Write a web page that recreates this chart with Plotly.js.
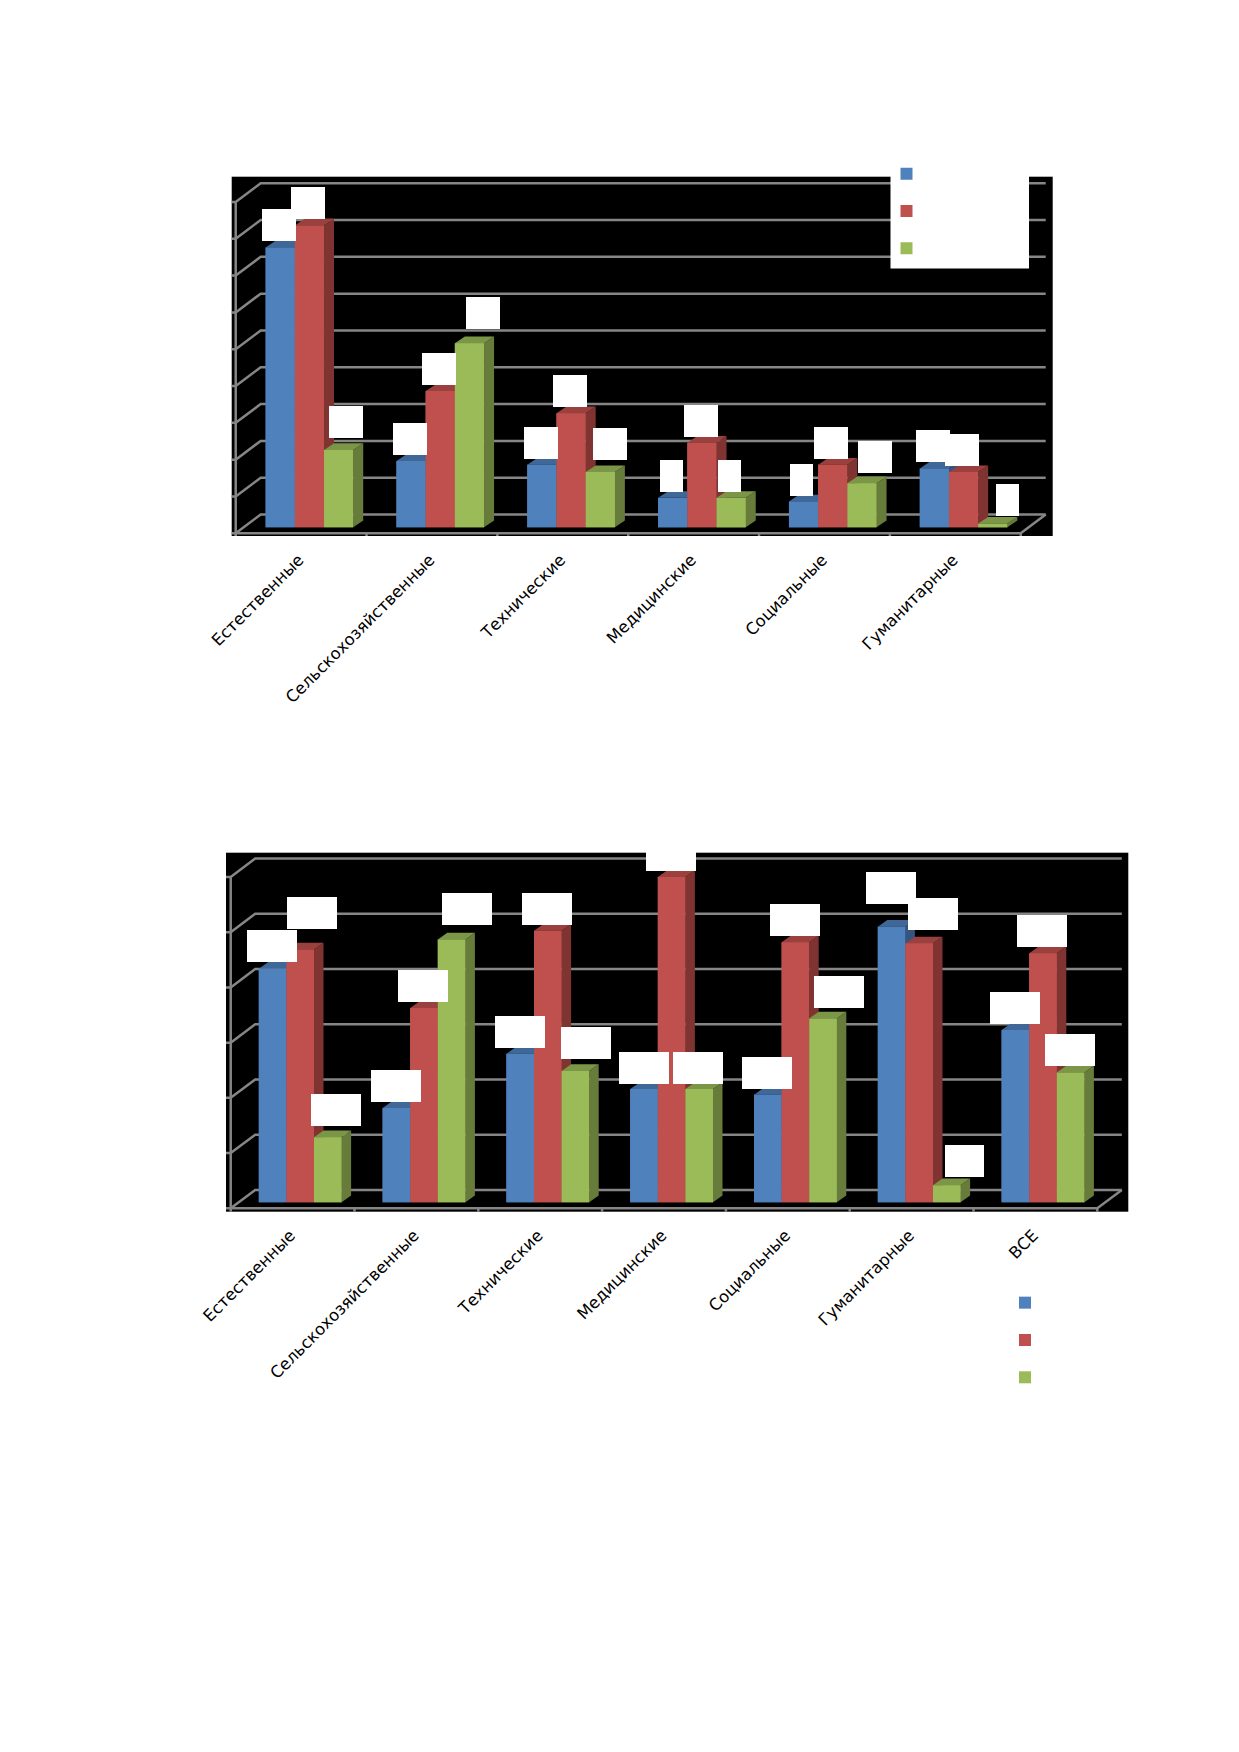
<!DOCTYPE html>
<html><head><meta charset="utf-8">
<script src="https://cdn.plot.ly/plotly-3.0.1.min.js"></script>
<style>html,body{margin:0;padding:0;background:#fff}#c{width:1239px;height:1752px}</style>
</head><body><div id="c"></div>
<script>
var categories1 = ["Естественные","Сельскохозяйственные","Технические","Медицинские","Социальные","Гуманитарные"];
var categories2 = ["Естественные","Сельскохозяйственные","Технические","Медицинские","Социальные","Гуманитарные","ВСЕ"];
var seriesA1 = [76,18,17,8,7,16];
var seriesB1 = [82,37,31,23,17,15];
var seriesC1 = [21,50,15,8,12,1];
var seriesA2 = [42.3,17.1,26.9,20.5,19.5,49.9,31.2];
var seriesB2 = [45.8,35.2,49.2,58.9,47.1,46.9,45.1];
var seriesC2 = [11.8,47.6,23.8,20.5,33.3,3.1,23.5];
var ticks1 = [0,10,20,30,40,50,60,70,80,90];
var ticks2 = [0,10,20,30,40,50,60];

var colors = {front:["#4F81BD","#C0504D","#9BBB59"], top:["#3F6797","#9A403E","#7C9647"], side:["#345580","#7F3432","#677C3B"]};
var GRID = "#868686";

// label box displacement from the top of each bar (px)
var shift1 = {
  x:[[-1.7,-1.5,-1.2,-1.3,-1.6,-1.7],[-1,-1.3,-1,-1.4,-1.7,-2],[7.7,13.5,9.4,-1.5,13,14.7]],
  y:[[7,6.7,6.7,6.7,6.7,6.7],[7,6.7,6.7,6.7,6.7,6.7],[13,15.3,13,6.7,10.7,8.7]]
};
var shift2 = {
  x:[[-.8,-.7,-.6,-.3,-.5,-.8,-.4],[11.7,-.7,-.9,-.3,-.8,14,-.7],[8.6,15.4,10.9,-.9,15.5,18,-.4]],
  y:[[7.3,6.7,6.7,6.3,6,23.3,6.7],[21,6.3,6.3,6.3,6.7,14.3,6.7],[12.3,14.7,12.7,6.3,11,8.7,7]]
};

var traces = [], annotations = [], layout = {
  width:1239, height:1752, margin:{l:0,r:0,t:0,b:0}, autosize:false,
  paper_bgcolor:"#fff", plot_bgcolor:"#000", barmode:"overlay", hovermode:false, showlegend:true
};

function chart(o){
  var sx = o.idx===1?"x":"x2", sy = o.idx===1?"y":"y2";
  var ax = o.idx===1?"xaxis":"xaxis2", ay = o.idx===1?"yaxis":"yaxis2";
  var n = o.cats.length, cat = (o.xEnd-o.x0)/n, unit = (o.y0-o.yTop)/o.ticks[o.ticks.length-1];
  var ddx = o.back[0]/cat, ddy = o.back[1]/unit;
  var bx = o.barOff[0]/cat, by = o.barOff[1]/unit;
  var dbx = o.barDepth[0]/cat, dby = o.barDepth[1]/unit;
  var barW = o.barW/cat, gap = (1-3*barW)/2;
  var top = o.ticks[o.ticks.length-1];

  layout[ax] = {domain:[o.box[0]/1239,o.box[1]/1239], range:[(o.box[0]-o.x0)/cat,(o.box[1]-o.x0)/cat],
    anchor:sy, tickmode:"array", tickvals:o.cats.map(function(_,i){return i+.5-2.2/cat}), ticktext:o.cats,
    tickangle:-45, ticks:"", showgrid:false, zeroline:false, showline:false, ticklabelstandoff:o.standoff,
    tickfont:{family:"DejaVu Sans",size:o.fs,color:"#000"}};
  layout[ay] = {domain:[1-o.box[3]/1752,1-o.box[2]/1752], range:[(o.y0-o.box[3])/unit,(o.y0-o.box[2])/unit],
    anchor:sx, showticklabels:false, ticks:"", showgrid:false, zeroline:false, showline:false};

  // walls, axes, tick marks
  var gx=[], gy=[];
  o.ticks.forEach(function(t){
    gx.push(-5/cat,0,ddx,n+ddx,null); gy.push(t,t,t+ddy,t+ddy,null);
  });
  gx.push(0,0,null, 0,n,n+ddx,null); gy.push(0,top,null, 0,0,ddy,null);
  for(var i=0;i<=n;i++){ gx.push(i,i,null); gy.push(0,-6/unit,null); }
  traces.push({type:"scatter",mode:"lines",x:gx,y:gy,xaxis:sx,yaxis:sy,showlegend:false,cliponaxis:false,
    line:{color:GRID,width:2.5},hoverinfo:"skip"});

  // real bars (front faces and legend swatches)
  o.series.forEach(function(vals,s){
    var t={type:"bar",x:vals.map(function(_,g){return g+bx+gap+barW*(s+.5)}),y:vals,base:by,width:barW,
      xaxis:sx,yaxis:sy,name:" ",legend:o.idx===1?"legend":"legend2",marker:{color:colors.front[s],line:{width:0}},hoverinfo:"skip"};
    traces.push(t);
  });

  // 3-D faces, painted left to right so nearer bars cover farther ones
  for(var g=0;g<n;g++){ for(var s=0;s<3;s++){
    var v=o.series[s][g], l=g+bx+gap+barW*s, r=l+barW, b=by, h=v+by;
    traces.push(poly([r,r+dbx,r+dbx,r],[b,b+dby,h+dby,h],colors.side[s],sx,sy));
    traces.push(poly([l,r,r+dbx,l+dbx],[h,h,h+dby,h+dby],colors.top[s],sx,sy));
    traces.push(poly([l,r,r,l],[b,b,h,h],colors.front[s],sx,sy));
    var txt=String(v), w=12.6+10.7*txt.replace(".","").length+(txt.indexOf(".")>=0?5:0);
    annotations.push({xref:sx,yref:sy,x:l+barW/2,y:h,xanchor:"center",yanchor:"bottom",
      xshift:o.shift.x[s][g],yshift:o.shift.y[s][g]-0.7,showarrow:false,text:txt,
      width:w,height:31.7,bgcolor:"#fff",borderpad:0,borderwidth:0,font:{family:"DejaVu Sans",size:12,color:"#fff"}});
  }}
}
function poly(x,y,c,sx,sy){
  return {type:"scatter",mode:"lines",x:x.concat(x[0]),y:y.concat(y[0]),fill:"toself",fillcolor:c,
    line:{width:0,color:c},xaxis:sx,yaxis:sy,showlegend:false,hoverinfo:"skip"};
}

chart({idx:1,cats:categories1,series:[seriesA1,seriesB1,seriesC1],ticks:ticks1,shift:shift1,
  box:[231.7,1052.7,176.7,536],x0:235.7,xEnd:1020.7,y0:533.3,yTop:202,back:[25,18.8],
  barOff:[8.3,6],barDepth:[10,6.7],barW:29.2,standoff:10,fs:16.4});
chart({idx:2,cats:categories2,series:[seriesA2,seriesB2,seriesC2],ticks:ticks2,shift:shift2,
  box:[226,1128.3,852.7,1211.7],x0:230.7,xEnd:1097.3,y0:1208.3,yTop:877,back:[24.5,18.4],
  barOff:[7.6,6],barDepth:[9.5,6.7],barW:27.6,standoff:10,fs:16.4});

layout.annotations = annotations;
// white panel behind the first legend
layout.shapes = [{type:"rect",xref:"paper",yref:"paper",x0:890.5/1239,x1:1029/1239,y0:1-268.5/1752,y1:1-150/1752,
  fillcolor:"#fff",line:{width:0},layer:"above"}];
layout.legend = {x:886.5/1239,y:1-150/1752,xanchor:"left",yanchor:"top",bgcolor:"rgba(0,0,0,0)",borderwidth:0,
  font:{size:26.4,color:"#fff"},tracegroupgap:0,itemclick:false,itemdoubleclick:false};
layout.legend2 = {x:1005/1239,y:1-1279/1752,xanchor:"left",yanchor:"top",bgcolor:"rgba(0,0,0,0)",borderwidth:0,
  font:{size:26.4,color:"#fff"},tracegroupgap:0,itemclick:false,itemdoubleclick:false};

Plotly.newPlot("c",traces,layout,{staticPlot:true,displayModeBar:false});
</script></body></html>
